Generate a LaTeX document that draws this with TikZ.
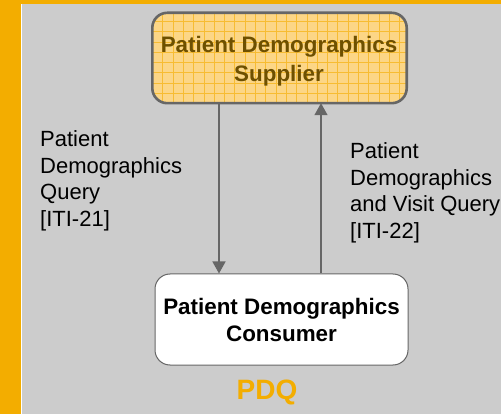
\documentclass[tikz,border=0pt]{standalone}
\usepackage{fontspec}
\setmainfont{Liberation Sans}
\usetikzlibrary{arrows.meta}
\definecolor{pageg}{RGB}{204,204,204}
\definecolor{amber}{RGB}{243,173,0}
\definecolor{supfill}{RGB}{252,214,134}
\definecolor{gridline}{RGB}{247,188,50}
\definecolor{boxline}{RGB}{102,102,102}
\definecolor{suptext}{RGB}{110,80,0}
\tikzset{
  x=1pt,y=-1pt,
  boxbase/.style={rounded corners=15pt,align=center,font=\fontsize{22.4}{29}\selectfont\bfseries,inner sep=0pt},
  flow/.style={draw=boxline,line width=1.5pt,-{Triangle[length=12pt,width=13pt]}},
  lab/.style={anchor=north west,align=left,font=\fontsize{22}{26.6}\selectfont,text=black,inner sep=0pt},
}
\begin{document}
\begin{tikzpicture}
\useasboundingbox (0,0) rectangle (501,414);
\fill[pageg] (0,0) rectangle (501,414);
\fill[amber] (0,0) rectangle (501,4);
\fill[amber] (0,0) rectangle (21,414);
\fill[white] (21,4) rectangle (22,414);
\node[boxbase,fill=supfill,minimum width=254pt,minimum height=90pt] (sup) at (279.5,58) {};
\begin{scope}
\clip[rounded corners=15pt] (sup.south west) rectangle (sup.north east);
\foreach \k in {0,...,24} \draw[gridline,line width=.7pt] ({162.7+10.3*\k},13) -- ({162.7+10.3*\k},103);
\foreach \k in {0,...,8} \draw[gridline,line width=.7pt] (153,{21.3+10.3*\k}) -- (406,{21.3+10.3*\k});
\end{scope}
\draw[boxline,line width=2.6pt,rounded corners=15pt] (sup.south west) rectangle (sup.north east);
\node[boxbase,text=suptext] (suplabel) at (279,61.5) {Patient Demographics\\Supplier};
\node[boxbase,draw=boxline,line width=1pt,fill=white,minimum width=253pt,minimum height=91pt,text=black,font=\fontsize{22.4}{27}\selectfont\bfseries] (con) at (281.5,319.5) {Patient Demographics\\Consumer};
\draw[flow] ([xshift=-60.5pt]sup.south) -- ([xshift=-62.5pt]con.north);
\draw[flow] ([xshift=39.5pt]con.north) -- ([xshift=41.5pt]sup.south);
\node[lab] (q1) at (40,130.5) {Patient\\Demographics\\Query\\{[}ITI-21{]}};
\node[lab] (q2) at (350,142.5) {Patient\\Demographics\\and Visit Query\\{[}ITI-22{]}};
\node[font=\fontsize{28}{32}\selectfont\bfseries,text=amber,inner sep=0pt] (pdq) at (267,392) {PDQ};
\end{tikzpicture}
\end{document}
